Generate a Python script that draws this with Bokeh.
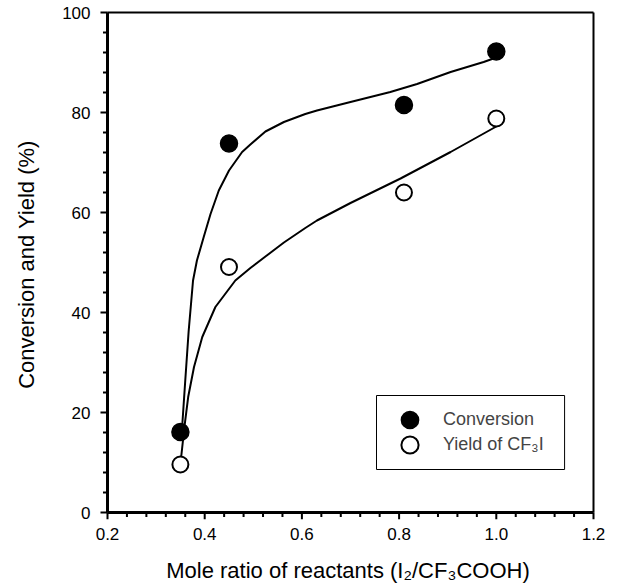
from bokeh.plotting import figure
from bokeh.models import FixedTicker, Legend, LegendItem, Range1d, BoxAnnotation
from bokeh.embed import file_html
from bokeh.resources import INLINE

# measured data points
ratio = [0.35, 0.45, 0.81, 1.00]
conversion = [16.1, 73.8, 81.5, 92.2]
yield_cf3i = [9.6, 49.1, 64.0, 78.8]

# fitted curves
conv_curve_x = [0.350, 0.354, 0.360, 0.367, 0.376, 0.384, 0.398, 0.412, 0.429, 0.450,
                0.477, 0.494, 0.525, 0.563, 0.607, 0.631, 0.700, 0.782, 0.837, 0.906,
                0.974, 1.000]
conv_curve_y = [16.1, 17.7, 26.4, 36.3, 46.4, 50.4, 55.1, 59.7, 64.4, 68.4,
                72.1, 73.6, 76.2, 78.1, 79.7, 80.4, 82.1, 84.1, 85.7, 88.1,
                90.1, 91.0]
yield_curve_x = [0.350, 0.359, 0.366, 0.378, 0.395, 0.422, 0.463, 0.494, 0.525, 0.563,
                 0.607, 0.631, 0.700, 0.803, 0.906, 1.000]
yield_curve_y = [9.7, 17.7, 23.1, 29.1, 35.1, 41.1, 46.4, 48.9, 51.2, 54.0,
                 56.9, 58.4, 61.9, 66.8, 72.1, 77.2]

x_ticks = [0.2, 0.4, 0.6, 0.8, 1.0, 1.2]
x_tick_labels = ["0.2", "0.4", "0.6", "0.8", "1.0", "1.2"]
y_ticks = [0, 20, 40, 60, 80, 100]
y_tick_labels = ["0", "20", "40", "60", "80", "100"]
x_minor = [round(0.2 + 0.04 * i, 2) for i in range(26) if i % 5]
y_minor = [4 * i for i in range(26) if i % 5]

FONT = "Liberation Sans"

# geometry: axes box is 486 x 500 px; the frame is extended a little so that
# the axis rules and outward ticks can be drawn as glyphs inside it
X_LO, X_HI = x_ticks[0], x_ticks[-1]
Y_LO, Y_HI = y_ticks[0], y_ticks[-1]
PX_X = (X_HI - X_LO) / 486.0
PX_Y = (Y_HI - Y_LO) / 500.0
EXT_L, EXT_R, EXT_T, EXT_B = 8, 3, 3, 7

p = figure(width=622, height=588,
           x_range=Range1d(X_LO - EXT_L * PX_X, X_HI + EXT_R * PX_X),
           y_range=Range1d(Y_LO - EXT_B * PX_Y, Y_HI + EXT_T * PX_Y),
           output_backend="svg", toolbar_location=None,
           min_border_left=107 - EXT_L, min_border_right=29 - EXT_R,
           min_border_top=12 - EXT_T, min_border_bottom=76 - EXT_B)
p.xgrid.visible = False
p.ygrid.visible = False
p.outline_line_color = None

p.xaxis.ticker = FixedTicker(ticks=x_ticks)
p.yaxis.ticker = FixedTicker(ticks=y_ticks)
p.xaxis.major_label_overrides = {t: l for t, l in zip(x_ticks, x_tick_labels)}
p.yaxis.major_label_overrides = {t: l for t, l in zip(y_ticks, y_tick_labels)}
p.xaxis.axis_label = "Mole ratio of reactants (I\u2082/CF\u2083COOH)"
p.yaxis.axis_label = "Conversion and Yield (%)"

p.axis.axis_line_color = None
p.axis.major_tick_line_color = None
p.axis.minor_tick_line_color = None
p.axis.major_tick_out = 0
p.axis.major_tick_in = 0
p.axis.minor_tick_out = 0
p.axis.minor_tick_in = 0
p.axis.major_label_text_font = FONT
p.axis.major_label_text_font_size = "17px"
p.axis.major_label_text_color = "black"
p.axis.axis_label_text_font = FONT
p.axis.axis_label_text_font_size = "22px"
p.axis.axis_label_text_font_style = "normal"
p.axis.axis_label_text_color = "black"

p.xaxis.major_label_standoff = 8
p.xaxis.axis_label_standoff = 15
p.yaxis.major_label_standoff = 9
p.yaxis.axis_label_standoff = 20

# axis rules (left, bottom) and box (top, right)
p.segment(x0=[X_LO, X_LO], y0=[Y_LO, Y_LO], x1=[X_LO, X_HI], y1=[Y_HI, Y_LO],
          line_color="black", line_width=3)
p.segment(x0=[X_LO, X_HI], y0=[Y_HI, Y_LO], x1=[X_HI, X_HI], y1=[Y_HI, Y_HI],
          line_color="black", line_width=2)

# outward ticks
p.segment(x0=x_ticks, y0=[Y_LO] * len(x_ticks), x1=x_ticks,
          y1=[Y_LO - 7 * PX_Y] * len(x_ticks), line_color="black", line_width=2)
p.segment(x0=x_minor, y0=[Y_LO] * len(x_minor), x1=x_minor,
          y1=[Y_LO - 4.5 * PX_Y] * len(x_minor), line_color="black", line_width=2)
p.segment(x0=[X_LO] * len(y_ticks), y0=y_ticks, x1=[X_LO - 7 * PX_X] * len(y_ticks),
          y1=y_ticks, line_color="black", line_width=2)
p.segment(x0=[X_LO] * len(y_minor), y0=y_minor, x1=[X_LO - 4.5 * PX_X] * len(y_minor),
          y1=y_minor, line_color="black", line_width=2)

# fitted curves
p.line(conv_curve_x, conv_curve_y, line_color="black", line_width=2)
p.line(yield_curve_x, yield_curve_y, line_color="black", line_width=2)
r1 = p.scatter(ratio, conversion, size=17, marker="circle", fill_color="black",
               line_color="black", line_width=1.5)
r2 = p.scatter(ratio, yield_cf3i, size=16, marker="circle", fill_color="white",
               line_color="black", line_width=2)

# legend frame
p.add_layout(BoxAnnotation(left=0.7535, right=1.1405, bottom=8.6, top=23.4,
                           fill_color="white", fill_alpha=1.0,
                           line_color="black", line_width=1, line_alpha=1.0))

common = dict(margin=0, padding=0, spacing=0, glyph_width=43, glyph_height=43,
              label_height=43, label_standoff=12, label_text_font=FONT,
              label_text_font_size="18px", border_line_alpha=0,
              background_fill_alpha=0)
leg1 = Legend(items=[LegendItem(label="Conversion", renderers=[r1])],
              location=(281 + EXT_L, 71 + EXT_B), **common)
leg2 = Legend(items=[LegendItem(label="Yield of CF\u2083I", renderers=[r2])],
              location=(281 + EXT_L, 46 + EXT_B), **common)
p.add_layout(leg1)
p.add_layout(leg2)

open("out.html", "w").write(file_html(p, INLINE))
